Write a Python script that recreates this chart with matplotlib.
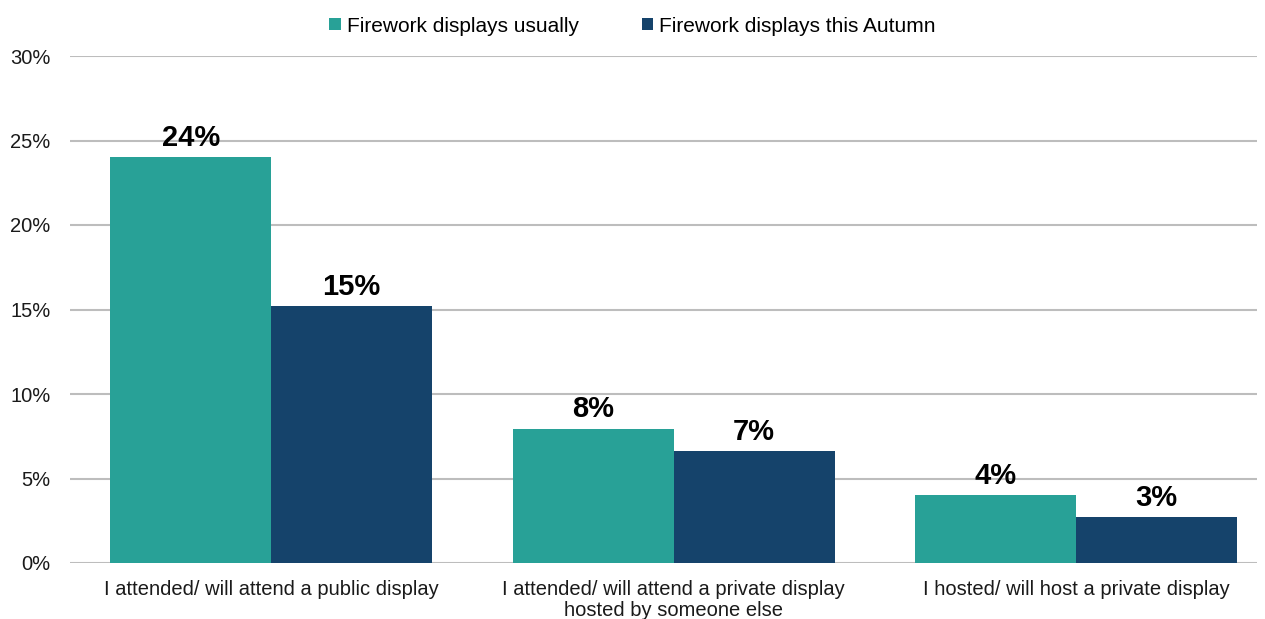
import matplotlib.pyplot as plt
import numpy as np

plt.rcParams['font.family'] = ['Liberation Sans', 'DejaVu Sans']

categories = ['I attended/ will attend a public display',
              'I attended/ will attend a private display\nhosted by someone else',
              'I hosted/ will host a private display']
series_names = ['Firework displays usually', 'Firework displays this Autumn']
usually = [24.0, 7.95, 4.0]
this_autumn = [15.2, 6.6, 2.7]
colors = ['#28a197', '#15436b']

fig = plt.figure(figsize=(12.65, 6.19), dpi=100)
ax = fig.add_axes([70 / 1265, 56 / 619, (1257 - 70) / 1265, (563 - 56) / 619])

x = np.arange(len(categories))
w = 0.4
for i, (vals, name) in enumerate(zip([usually, this_autumn], series_names)):
    bars = ax.bar(x + (i - 0.5) * w, vals, w, color=colors[i], label=name, zorder=3)
    for b, v in zip(bars, vals):
        ax.annotate(f'{v:.0f}%', (b.get_x() + b.get_width() / 2, v),
                    xytext=(0, 4), textcoords='offset points',
                    ha='center', va='bottom', fontsize=21, fontweight='bold')

ax.set_xlim(-0.5, 2.45)
ax.set_ylim(0, 30)
ax.set_yticks(range(0, 31, 5))
ax.set_yticklabels([f'{t}%' for t in range(0, 31, 5)], fontsize=14.5, color='#1a1a1a')
ax.set_xticks(x)
ax.set_xticklabels(categories, fontsize=14.5, color='#1a1a1a', linespacing=1.15)
ax.tick_params(length=0)
ax.tick_params(axis='x', pad=12)
ax.tick_params(axis='y', pad=14)
ax.yaxis.grid(True, color='#bdbdbd', linewidth=1.5, zorder=0)
for s in ax.spines.values():
    s.set_visible(False)

fig.legend(loc='center', bbox_to_anchor=(0.5, 1 - 26 / 619), ncol=2, frameon=False,
           fontsize=15, handlelength=0.55, handleheight=0.55, handletextpad=0.3,
           columnspacing=3.0)

fig.savefig('out.png', dpi=100)
